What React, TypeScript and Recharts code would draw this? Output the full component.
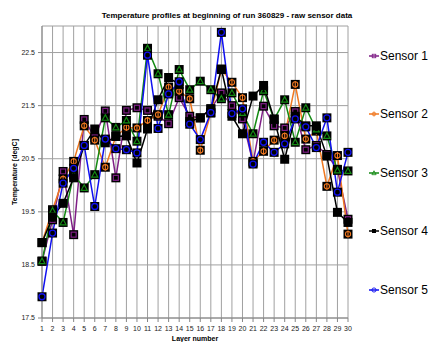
import { CartesianGrid, Line, LineChart, XAxis, YAxis } from "recharts";

const layers = [
  1, 2, 3, 4, 5, 6, 7, 8, 9, 10, 11, 12, 13, 14, 15, 16, 17, 18, 19, 20, 21,
  22, 23, 24, 25, 26, 27, 28, 29, 30,
];

const sensor1 = [
  18.57, 19.35, 20.26, 19.07, 21.24, 20.9, 21.4, 20.14, 21.41, 21.46, 21.41,
  21.3, 21.16, 21.65, 21.3, 21.27, 21.44, 21.74, 21.5, 21.25, 20.42, 21.49,
  21.12, 21.08, 21.39, 20.67, 20.75, 20.58, 20.3, 19.36,
];
const sensor2 = [
  18.92, 19.54, 20.12, 20.45, 21.12, 20.85, 20.34, 20.92, 21.09, 21.08, 21.22,
  21.33, 21.85, 21.77, 21.63, 20.66, 21.36, 22.18, 21.94, 21.65, 20.45, 20.64,
  20.85, 20.93, 21.9, 20.87, 21.02, 19.98, 20.56, 19.08,
];
const sensor3 = [
  18.57, 19.52, 19.3, 20.2, 19.95, 20.2, 21.27, 21.09, 21.22, 20.83, 22.58,
  22.1, 21.33, 22.18, 21.8, 21.96, 21.8, 21.63, 21.74, 21.36, 20.97, 21.78,
  21.24, 21.61, 20.81, 21.46, 21.05, 20.93, 20.28, 20.27,
];
const sensor4 = [
  18.92, 19.4, 19.66, 20.14, 20.75, 21.06, 20.8, 20.92, 20.93, 20.42, 21.06,
  21.61, 22.03, 21.9, 21.2, 21.27, 21.44, 22.19, 21.3, 20.97, 21.68, 21.88,
  21.25, 20.49, 21.3, 21.12, 21.12, 20.55, 19.49, 19.3,
];
const sensor5 = [
  17.9, 19.1, 20.04, 20.32, 20.75, 19.6, 20.87, 20.69, 20.67, 20.61, 22.45,
  21.07, 21.72, 21.95, 21.15, 20.86, 21.37, 22.88, 21.35, 21.44, 20.4, 20.81,
  20.62, 20.78, 21.25, 21.1, 20.71, 21.27, 19.87, 20.62,
];

const yTicks = [17.5, 18.5, 19.5, 20.5, 21.5, 22.5];

const seriesNames = ["Sensor 1", "Sensor 2", "Sensor 3", "Sensor 4", "Sensor 5"];
const seriesKeys = ["s1", "s2", "s3", "s4", "s5"];
const seriesColors = ["#7f1f86", "#f07820", "#138a13", "#000000", "#1010f0"];
const seriesMarkers = ["square", "plus", "triangle", "box", "circle"];

const data = layers.map((layer, i) => ({
  layer,
  s1: sensor1[i],
  s2: sensor2[i],
  s3: sensor3[i],
  s4: sensor4[i],
  s5: sensor5[i],
}));

function Marker({ kind, color, x, y }: { kind: string; color: string; x: number; y: number }) {
  if (kind === "square")
    return <rect x={x - 2.5} y={y - 2.5} width={5} height={5} fill="none" stroke={color} strokeWidth={1.2} />;
  if (kind === "plus")
    return (
      <g stroke={color} strokeWidth={1.1} fill="none">
        <circle cx={x} cy={y} r={2.6} />
        <line x1={x} y1={y - 3.5} x2={x} y2={y + 3.5} />
      </g>
    );
  if (kind === "triangle")
    return (
      <polygon
        points={`${x},${y - 3.2} ${x + 3},${y + 2.4} ${x - 3},${y + 2.4}`}
        fill="none"
        stroke={color}
        strokeWidth={1.2}
      />
    );
  if (kind === "circle")
    return <circle cx={x} cy={y} r={3} fill="none" stroke={color} strokeWidth={1.3} />;
  return null;
}

function makeDot(kind: string, color: string) {
  return (props: any) => {
    const { cx, cy, index } = props;
    if (cx == null || cy == null) return <g key={`d-${index}`} />;
    return (
      <g key={`d-${index}`}>
        <rect x={cx - 4.5} y={cy - 4.5} width={9} height={9} fill="#000" />
        <Marker kind={kind} color={color} x={cx} y={cy} />
      </g>
    );
  };
}

const legendTops = [56, 114, 173, 231, 290];

export default function App() {
  return (
    <div style={{ position: "relative", width: 444, height: 350, margin: -8, fontFamily: "Liberation Sans, Arial, sans-serif" }}>
      <div
        style={{
          position: "absolute",
          left: 6,
          top: 6,
          width: 430,
          height: 336,
          border: "1px solid #b0b0b0",
        }}
      />
      <div
        style={{
          position: "absolute",
          left: 0,
          width: 454,
          top: 11,
          textAlign: "center",
          fontSize: 8,
          fontWeight: "bold",
          color: "#000",
        }}
      >
        Temperature profiles at beginning of run 360829 - raw sensor data
      </div>
      <div
        style={{
          position: "absolute",
          left: 14,
          top: 172,
          transform: "translate(-50%, -50%) rotate(-90deg)",
          fontSize: 7,
          fontWeight: "bold",
          whiteSpace: "nowrap",
        }}
      >
        Temperature [degC]
      </div>
      <div style={{ position: "absolute", left: 0, top: 0 }}>
        <LineChart width={444} height={350} data={data} margin={{ top: 26, right: 96, bottom: 18, left: 7 }}>
          <CartesianGrid stroke="#a0a0a0" strokeWidth={1} />
          <XAxis
            dataKey="layer"
            interval={0}
            height={14}
            tickSize={4}
            tickMargin={4}
            stroke="#868686"
            tick={{ fontSize: 7, fill: "#222" }}
          />
          <YAxis
            domain={[17.5, 23]}
            ticks={yTicks}
            width={35}
            tickSize={4}
            tickMargin={3}
            stroke="#868686"
            tick={{ fontSize: 7, fill: "#222" }}
            tickFormatter={(v: number) => v.toFixed(1)}
            allowDataOverflow
          />
          {seriesKeys.map((k, i) => (
            <Line
              key={k}
              type="linear"
              dataKey={k}
              name={seriesNames[i]}
              stroke={seriesColors[i]}
              strokeWidth={1.5}
              dot={makeDot(seriesMarkers[i], seriesColors[i])}
              activeDot={false}
              isAnimationActive={false}
            />
          ))}
        </LineChart>
      </div>
      <div
        style={{
          position: "absolute",
          left: 195,
          top: 335,
          zIndex: 2,
          transform: "translateX(-50%)",
          fontSize: 7,
          fontWeight: "bold",
          whiteSpace: "nowrap",
        }}
      >
        Layer number
      </div>
      {seriesNames.map((name, i) => (
        <div
          key={name}
          style={{
            position: "absolute",
            left: 369,
            top: legendTops[i] - 8,
            height: 16,
            display: "flex",
            alignItems: "center",
            fontSize: 12,
            color: "#000",
            whiteSpace: "nowrap",
          }}
        >
          <svg width={10} height={10} style={{ marginRight: 1 }}>
            <line x1={0} y1={5} x2={10} y2={5} stroke={seriesColors[i]} strokeWidth={1.5} />
            {seriesMarkers[i] === "box" ? (
              <rect x={3} y={3} width={4} height={4} fill="#000" />
            ) : (
              <g transform="translate(5,5) scale(0.7) translate(-5,-5)">
                <Marker kind={seriesMarkers[i]} color={seriesColors[i]} x={5} y={5} />
              </g>
            )}
          </svg>
          {name}
        </div>
      ))}
    </div>
  );
}
